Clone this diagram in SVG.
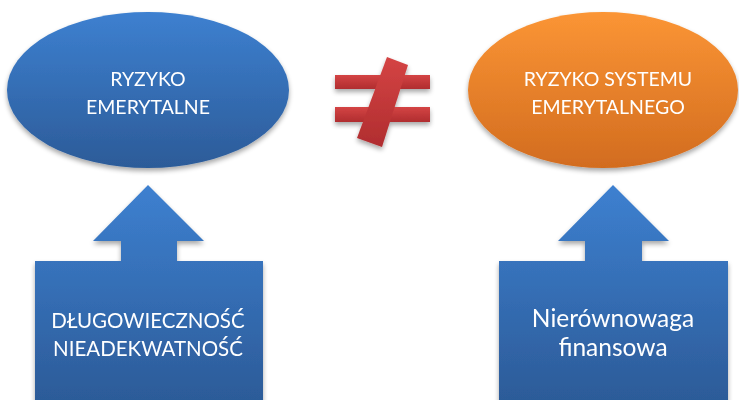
<svg xmlns="http://www.w3.org/2000/svg" width="739" height="400" viewBox="0 0 739 400">
<defs>
<linearGradient id="gBlue" x1="0" y1="0" x2="0" y2="1">
<stop offset="0" stop-color="#3d80d0"/>
<stop offset="1" stop-color="#2c5b98"/>
</linearGradient>
<linearGradient id="gOrange" x1="0" y1="0" x2="0" y2="1">
<stop offset="0" stop-color="#fb9535"/>
<stop offset="1" stop-color="#d26c1f"/>
</linearGradient>
<linearGradient id="gRed" x1="0" y1="0" x2="0" y2="1">
<stop offset="0" stop-color="#d44444"/>
<stop offset="1" stop-color="#b02d2f"/>
</linearGradient>
<filter id="shadow" x="-10%" y="-10%" width="120%" height="130%">
<feGaussianBlur in="SourceAlpha" stdDeviation="2.5"/>
<feOffset dx="0" dy="3" result="b"/>
<feComponentTransfer><feFuncA type="linear" slope="0.35"/></feComponentTransfer>
<feMerge><feMergeNode/><feMergeNode in="SourceGraphic"/></feMerge>
</filter>
</defs>
<style>
.t{font-family:"Lato","Liberation Sans",sans-serif;fill:#ffffff;text-anchor:middle}
.s{font-size:19.5px}
.m{font-size:20.5px}
.b{font-size:24.5px}
</style>
<rect width="739" height="400" fill="#ffffff"/>
<g id="node-ryzyko-emerytalne" filter="url(#shadow)">
<ellipse cx="148" cy="90" rx="141" ry="78" fill="url(#gBlue)"/>
<text class="t s" x="148" y="86">RYZYKO</text>
<text class="t s" x="148" y="114">EMERYTALNE</text>
</g>
<g id="node-rozne" filter="url(#shadow)">
<rect x="335" y="75" width="95" height="14" fill="url(#gRed)"/>
<rect x="335" y="107" width="95" height="15" fill="url(#gRed)"/>
<polygon points="387,57 408,65 382,147 357,138" fill="url(#gRed)"/>
</g>
<g id="node-ryzyko-systemu" filter="url(#shadow)">
<ellipse cx="603" cy="90" rx="135" ry="78" fill="url(#gOrange)"/>
<text class="t s" x="608" y="86">RYZYKO SYSTEMU</text>
<text class="t s" x="608" y="114">EMERYTALNEGO</text>
</g>
<g id="node-dlugowiecznosc" filter="url(#shadow)">
<path d="M148,185 L204,241 L177,241 L177,261 L263,261 L263,402 L35,402 L35,261 L121,261 L121,241 L93,241 Z" fill="url(#gBlue)"/>
<text class="t m" x="148" y="328">DŁUGOWIECZNOŚĆ</text>
<text class="t m" x="148" y="356">NIEADEKWATNOŚĆ</text>
</g>
<g id="node-nierownowaga" filter="url(#shadow)">
<path d="M613,185 L669,241 L642,241 L642,261 L728,261 L728,402 L499,402 L499,261 L585,261 L585,241 L558,241 Z" fill="url(#gBlue)"/>
<text class="t b" x="613" y="327">Nierównowaga</text>
<text class="t b" x="613" y="356">finansowa</text>
</g>
<g id="connectors"/>
</svg>
